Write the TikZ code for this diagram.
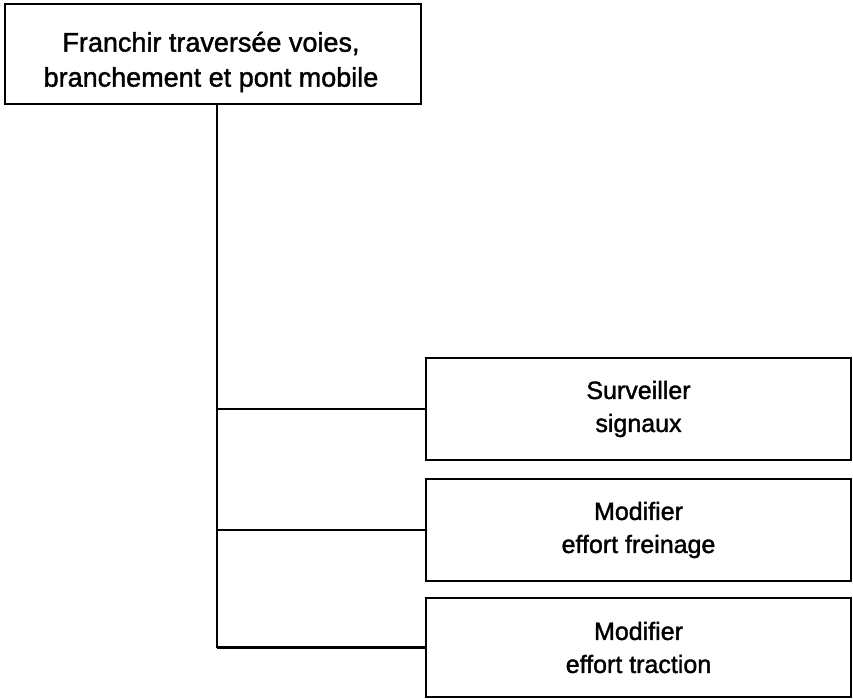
\documentclass[tikz,border=0pt]{standalone}
\usepackage{fontspec}
\setmainfont{Liberation Sans}[FakeBold=1.5]
\begin{document}
\begin{tikzpicture}[x=1pt,y=-1pt]
\tikzset{
  boxstyle/.style={draw, line width=2.5pt, inner sep=0pt, align=center,
    font=\fontsize{25}{33}\selectfont},
  titletext/.style={inner sep=0pt, align=center,
    font=\fontsize{27}{35}\selectfont},
  link/.style={line width=2.5pt}
}
\useasboundingbox (0,0) rectangle (853,698);
\node[boxstyle, minimum width=416pt, minimum height=100pt] (top) at (213,54) {};
\node[titletext] (toptext) at (211,62) {Franchir traversée voies,\\branchement et pont mobile};
\node[boxstyle, minimum width=425pt, minimum height=102pt] (b1) at (638.5,409) {Surveiller\\signaux};
\node[boxstyle, minimum width=425pt, minimum height=102pt] (b2) at (638.5,530) {Modifier\\effort freinage};
\node[boxstyle, minimum width=425pt, minimum height=99pt] (b3) at (638.5,647.5) {Modifier\\effort traction};
\coordinate (j1) at (217,409);
\coordinate (j2) at (217,530);
\coordinate (j3) at (217,647.5);
\draw[link] (top.south -| j1) -- (j3);
\draw[link] (j1) -- (b1.west);
\draw[link] (j2) -- (b2.west);
\draw[link] (j3) -- (b3.west);
\end{tikzpicture}
\end{document}
